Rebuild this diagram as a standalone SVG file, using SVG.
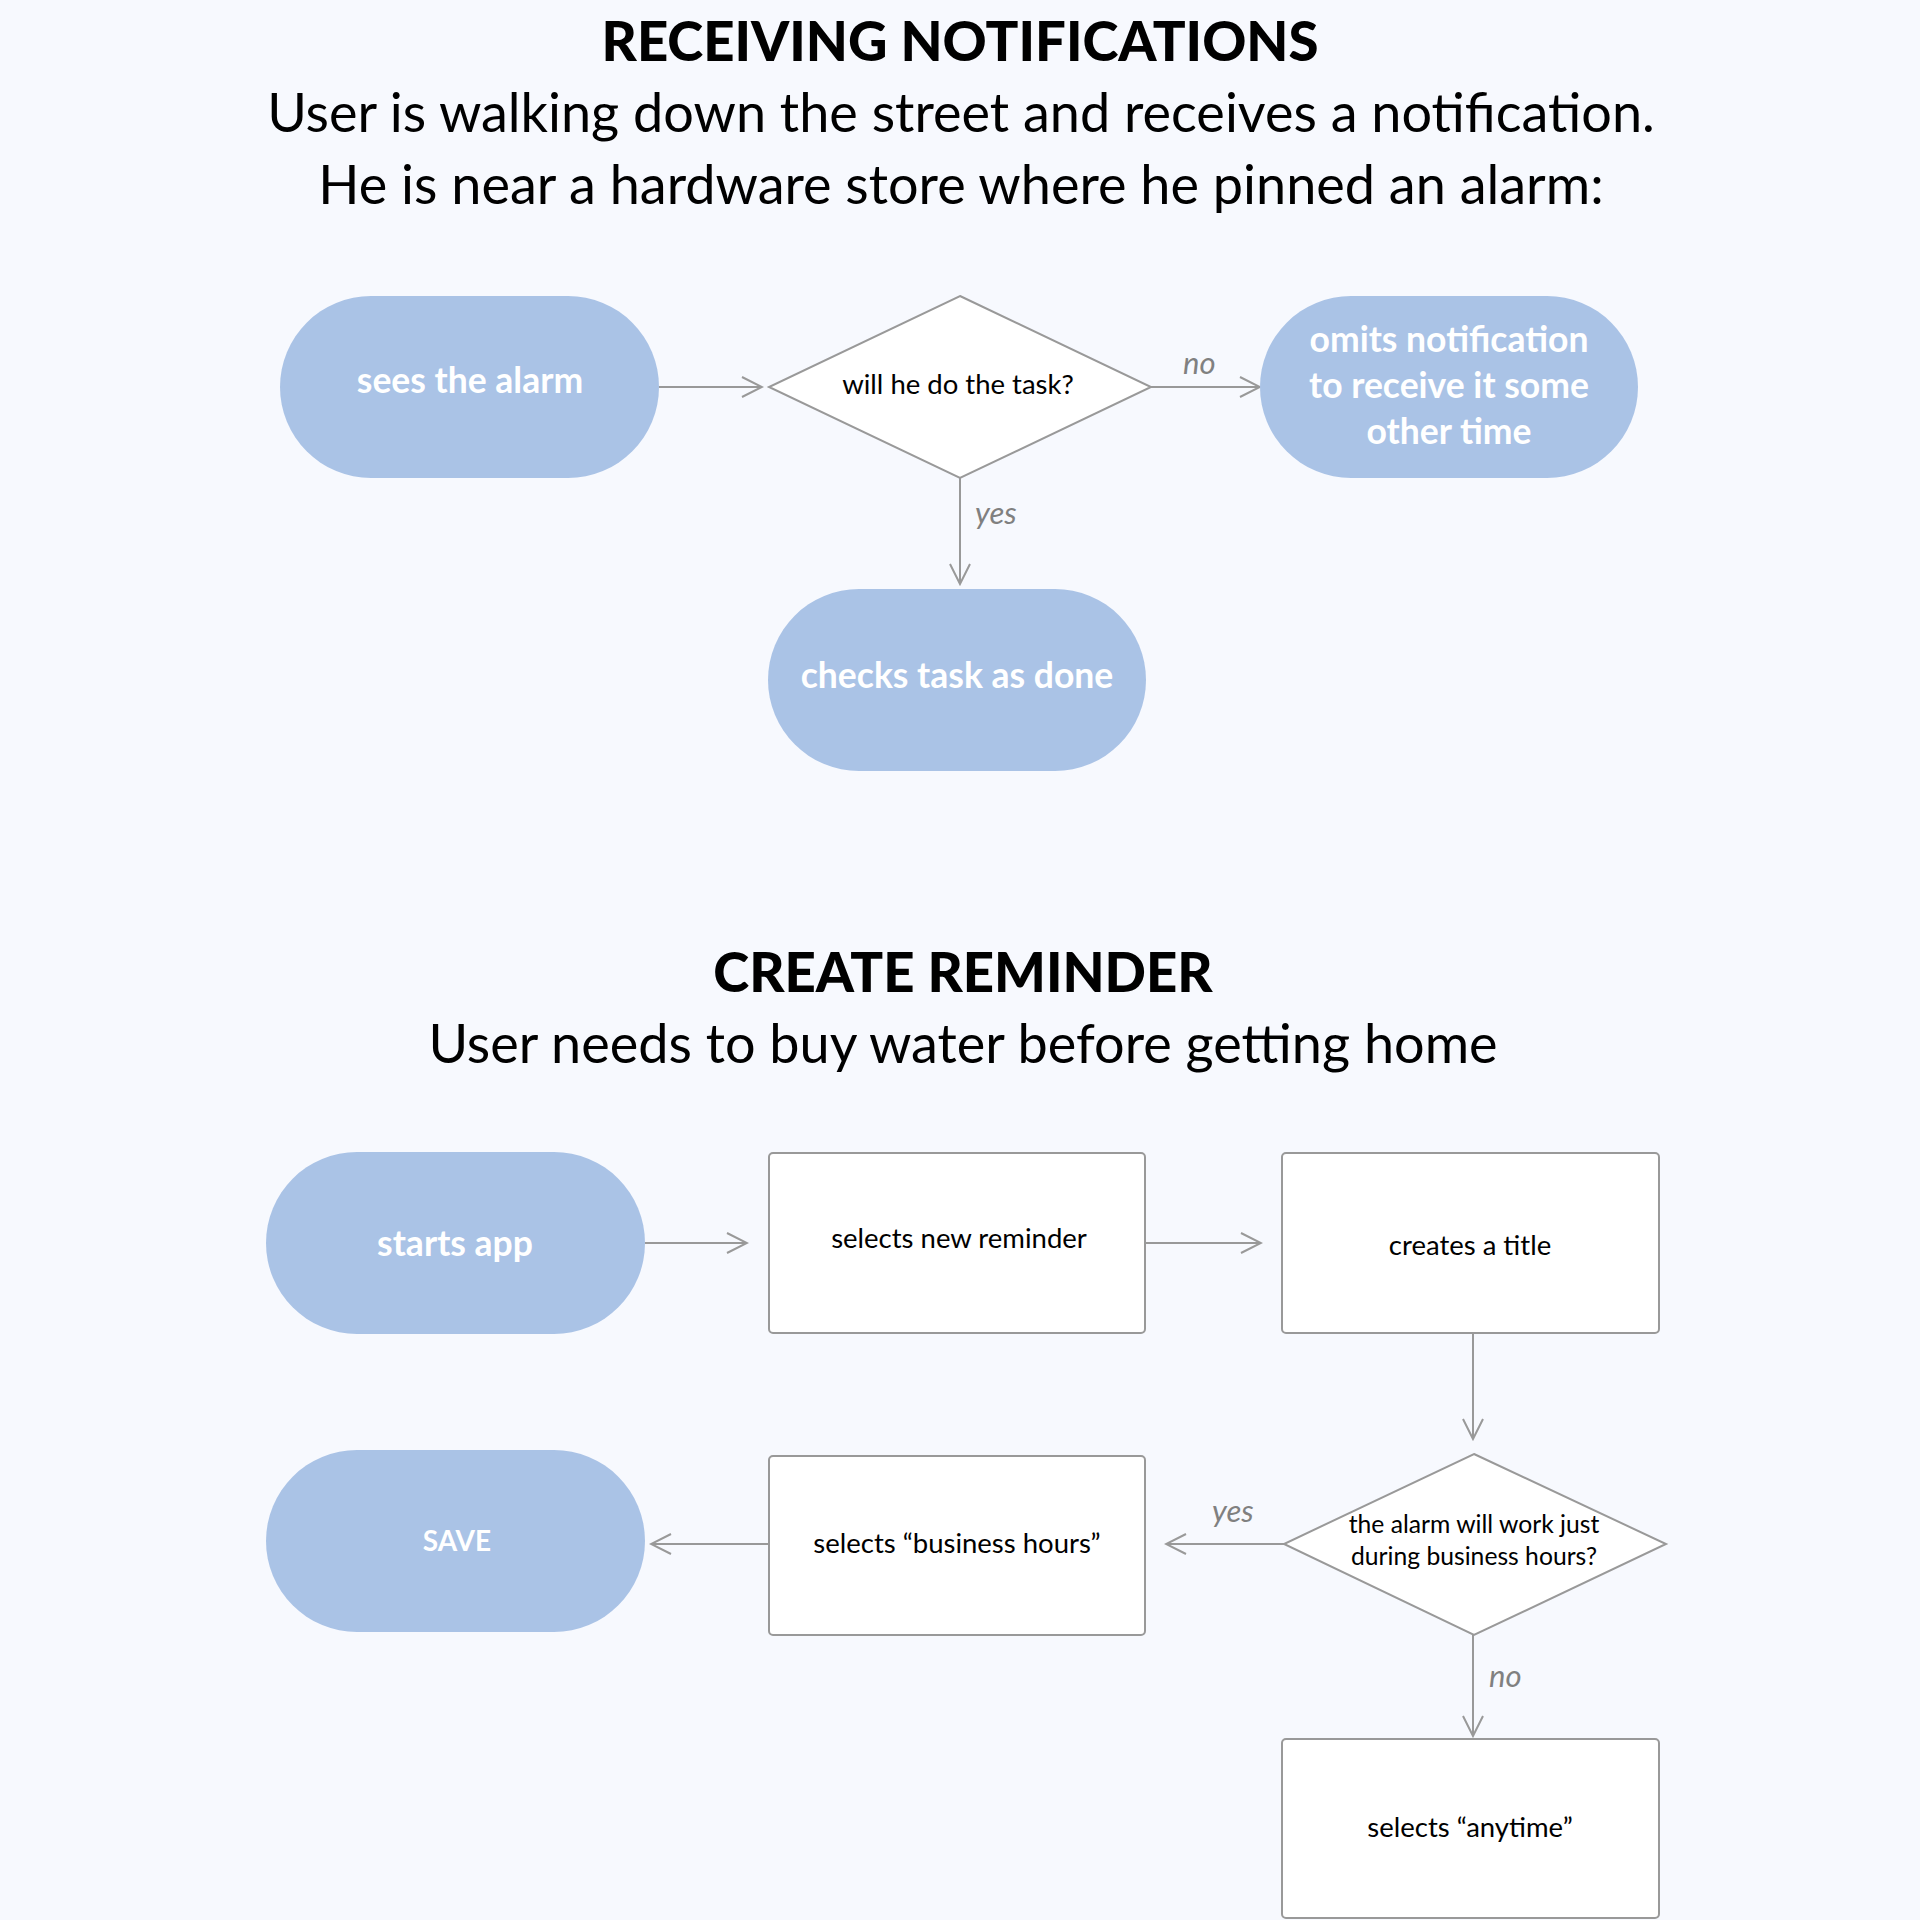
<svg xmlns="http://www.w3.org/2000/svg" width="1920" height="1920" viewBox="0 0 1920 1920">
<defs>
<style>
.title{font-family:Lato,"Liberation Sans",sans-serif;font-weight:900;font-size:54.5px;fill:#000;text-anchor:middle}
.sub{font-family:Lato,"Liberation Sans",sans-serif;font-weight:400;font-size:54px;fill:#000;text-anchor:middle}
.term{fill:#AAC3E6}
.tt{font-family:Lato,"Liberation Sans",sans-serif;font-weight:700;font-size:35.5px;fill:#fff;text-anchor:middle}
.box{fill:#fff;stroke:#999;stroke-width:2}
.bt{font-family:Lato,"Liberation Sans",sans-serif;font-weight:400;font-size:27.5px;fill:#000;text-anchor:middle}
.dt{font-family:Lato,"Liberation Sans",sans-serif;font-weight:400;font-size:24.7px;fill:#000;text-anchor:middle}
.conn{fill:none;stroke:#999;stroke-width:2;marker-end:url(#arr)}
.lbl{font-family:Lato,"Liberation Sans",sans-serif;font-style:italic;font-size:31px;fill:#808080}
</style>
<marker id="arr" viewBox="0 0 24 24" refX="22" refY="12" markerWidth="24" markerHeight="24" markerUnits="userSpaceOnUse" orient="auto">
<path d="M2,2 L22,12 L2,22" fill="none" stroke="#999" stroke-width="2"/>
</marker>
</defs>
<rect x="0" y="0" width="1920" height="1920" fill="#F7F9FE"/>

<g id="heading1">
<text class="title" x="960" y="61">RECEIVING NOTIFICATIONS</text>
<text class="sub" x="961" y="132">User is walking down the street and receives a notification.</text>
<text class="sub" x="961" y="204">He is near a hardware store where he pinned an alarm:</text>
</g>

<g id="heading2">
<text class="title" x="963" y="992">CREATE REMINDER</text>
<text class="sub" x="963" y="1063">User needs to buy water before getting home</text>
</g>

<g id="connectors">
<line class="conn" x1="659" y1="387" x2="762" y2="387"/>
<line class="conn" x1="1151" y1="387" x2="1260" y2="387"/>
<text class="lbl" x="1183" y="374">no</text>
<line class="conn" x1="960" y1="478" x2="960" y2="584"/>
<text class="lbl" x="975" y="524">yes</text>

<line class="conn" x1="645" y1="1243" x2="747" y2="1243"/>
<line class="conn" x1="1145" y1="1243" x2="1261" y2="1243"/>
<line class="conn" x1="1473" y1="1333" x2="1473" y2="1439"/>
<line class="conn" x1="1284" y1="1544" x2="1166" y2="1544"/>
<text class="lbl" x="1212" y="1522">yes</text>
<line class="conn" x1="769" y1="1544" x2="651" y2="1544"/>
<line class="conn" x1="1473" y1="1635" x2="1473" y2="1736"/>
<text class="lbl" x="1489" y="1687">no</text>
</g>

<g id="sees-alarm">
<rect class="term" x="280" y="296" width="379" height="182" rx="91"/>
<text class="tt" x="470" y="393">sees the alarm</text>
</g>
<g id="will-he-do">
<polygon class="box" points="960,296 1151,387 960,478 769,387"/>
<text class="bt" x="958" y="394">will he do the task?</text>
</g>
<g id="omits">
<rect class="term" x="1260" y="296" width="378" height="182" rx="91"/>
<text class="tt" x="1449" y="352">omits notification</text>
<text class="tt" x="1449" y="398">to receive it some</text>
<text class="tt" x="1449" y="444">other time</text>
</g>
<g id="checks">
<rect class="term" x="768" y="589" width="378" height="182" rx="91"/>
<text class="tt" x="957" y="688">checks task as done</text>
</g>

<g id="starts-app">
<rect class="term" x="266" y="1152" width="379" height="182" rx="91"/>
<text class="tt" x="455" y="1256">starts app</text>
</g>
<g id="new-reminder">
<rect class="box" x="769" y="1153" width="376" height="180" rx="4"/>
<text class="bt" x="959" y="1248">selects new reminder</text>
</g>
<g id="title">
<rect class="box" x="1282" y="1153" width="377" height="180" rx="4"/>
<text class="bt" x="1470" y="1255">creates a title</text>
</g>
<g id="business-q">
<polygon class="box" points="1474,1454 1666,1544 1474,1635 1284,1544"/>
<text class="dt" x="1474" y="1533">the alarm will work just</text>
<text class="dt" x="1474" y="1565">during business hours?</text>
</g>
<g id="business-hours">
<rect class="box" x="769" y="1456" width="376" height="179" rx="4"/>
<text class="bt" x="957" y="1553">selects “business hours”</text>
</g>
<g id="save">
<rect class="term" x="266" y="1450" width="379" height="182" rx="91"/>
<text class="tt" x="457" y="1551" style="font-size:28px">SAVE</text>
</g>
<g id="anytime">
<rect class="box" x="1282" y="1739" width="377" height="179" rx="4"/>
<text class="bt" x="1470" y="1837">selects “anytime”</text>
</g>
</svg>
